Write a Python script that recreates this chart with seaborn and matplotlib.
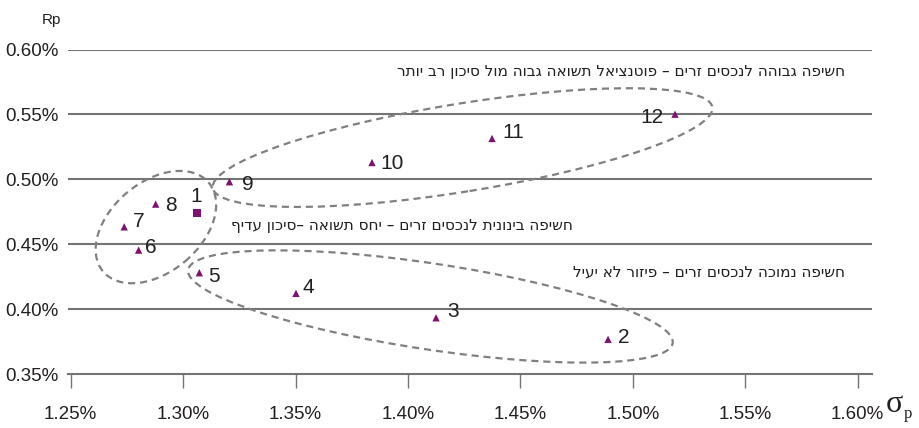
import matplotlib
matplotlib.use("Agg")
import matplotlib.pyplot as plt
import matplotlib.transforms as mtransforms
from matplotlib.patches import Ellipse
import seaborn as sns
import pandas as pd

# Portfolio points: risk (sigma_p, %) and return (Rp, %)
labels = ["1", "2", "3", "4", "5", "6", "7", "8", "9", "10", "11", "12"]
sigma_p = [1.306, 1.489, 1.4125, 1.3502, 1.3072, 1.2802, 1.2738, 1.2878, 1.3206, 1.384, 1.4374, 1.5188]
rp = [0.4743, 0.3769, 0.3935, 0.4123, 0.4282, 0.4456, 0.4635, 0.4810, 0.4982, 0.513, 0.5315, 0.5502]
x_ticks = [1.25, 1.30, 1.35, 1.40, 1.45, 1.50, 1.55, 1.60]
y_ticks = [0.35, 0.40, 0.45, 0.50, 0.55, 0.60]

group_texts = [
    "חשיפה גבוהה לנכסים זרים – פוטנציאל תשואה גבוה מול סיכון רב יותר",
    "חשיפה בינונית לנכסים זרים – יחס תשואה –סיכון עדיף",
    "חשיפה נמוכה לנכסים זרים – פיזור לא יעיל",
]

PURPLE = "#7d1270"
GRID = "#747474"
TEXT = "#231f20"

sns.set_theme(style="white")
plt.rcParams["font.family"] = ["Liberation Sans", "DejaVu Sans"]

df = pd.DataFrame({"label": labels, "sigma": sigma_p, "rp": rp})
df["kind"] = ["square" if l == "1" else "tri" for l in labels]

fig = plt.figure(figsize=(9.2, 4.28), dpi=100)
ax = fig.add_axes([68 / 920, 1 - 374.3 / 428, (872 - 68) / 920, (374.3 - 49.5) / 428])

ax.set_xlim(1.2488, 1.6064)
ax.set_ylim(0.35, 0.60)

# horizontal grid lines
for yv in y_ticks[1:]:
    ax.axhline(yv, color=GRID, lw=1.5, zorder=1)

tri = df[df["kind"] == "tri"]
sq = df[df["kind"] == "square"]
sns.scatterplot(data=tri, x="sigma", y="rp", marker="^", s=28, color=PURPLE,
                edgecolor="none", ax=ax, zorder=4, legend=False)
sns.scatterplot(data=sq, x="sigma", y="rp", marker="s", s=34, color=PURPLE,
                edgecolor="none", ax=ax, zorder=4, legend=False)

# point labels: offsets in pixels (right, down) from the marker
label_offsets = {
    "1": (0, -16, "center"), "2": (10, -2, "left"), "3": (11, -6, "left"),
    "4": (7, -6, "left"), "5": (8.5, 4, "left"), "6": (6.5, -3, "left"),
    "7": (8.5, -5, "left"), "8": (9, 1, "left"), "9": (13, 3, "left"),
    "10": (8, 1, "left"), "11": (10, -6, "left"), "12": (-12, 3, "right"),
}
px2pt = 72 / fig.dpi
for lab, xv, yv in zip(df["label"], df["sigma"], df["rp"]):
    dx, dy, ha = label_offsets[lab]
    ax.annotate(lab, (xv, yv), xytext=(dx * px2pt, -dy * px2pt),
                textcoords="offset points", ha=ha, va="center",
                fontsize=15, color=TEXT, zorder=5)

# dashed group outlines: centre in data units, semi-axes in pixels
groups = [
    (1.4243, 0.5245, 253, 44, 9.2),
    (1.2879, 0.4633, 69, 45, 40.0),
    (1.4100, 0.4022, 245, 43, -8.6),
]
for cx, cy, a, b, ang in groups:
    tr = fig.dpi_scale_trans + mtransforms.ScaledTranslation(cx, cy, ax.transData)
    e = Ellipse((0, 0), 2 * a / 100, 2 * b / 100, angle=ang, transform=tr,
                fill=False, edgecolor="#808080", lw=1.6, linestyle=(0, (3.2, 2.2)),
                zorder=3)
    ax.add_patch(e)

# group captions (right-to-left text drawn in visual order)
text_pos = [(1.5944, 0.5833), (1.4734, 0.4648), (1.5944, 0.4289)]
for t, (tx, ty) in zip(group_texts, text_pos):
    ax.text(tx, ty, t[::-1], ha="right", va="center", fontsize=11, color=TEXT,
            family=["DejaVu Sans"], zorder=5)

# axes styling
for side in ["top", "right", "left"]:
    ax.spines[side].set_visible(False)
ax.spines["bottom"].set_color(GRID)
ax.spines["bottom"].set_linewidth(1.5)

ax.set_xticks(x_ticks)
ax.set_xticklabels([f"{v:.2f}%" for v in x_ticks])
ax.set_yticks(y_ticks)
ax.set_yticklabels([f"{v:.2f}%" for v in y_ticks])
ax.tick_params(axis="x", length=10, width=1, color=GRID, direction="out",
               pad=13, labelsize=13.5, labelcolor=TEXT, bottom=True)
ax.tick_params(axis="y", length=0, pad=6.5, labelsize=13.5, labelcolor=TEXT)
ax.set_xlabel("")
ax.set_ylabel("")

fig.text(51 / 920, 1 - 20 / 428, "Rp", ha="center", va="center", fontsize=11, color=TEXT)
fig.text(886 / 920, 1 - 404 / 428, "σ", ha="left", va="center", fontsize=23,
         color=TEXT, family=["Liberation Serif", "DejaVu Serif"])
fig.text(904 / 920, 1 - 414 / 428, "p", ha="left", va="center", fontsize=12,
         color=TEXT, family=["Liberation Serif", "DejaVu Serif"])

fig.savefig("out.png", dpi=100)
